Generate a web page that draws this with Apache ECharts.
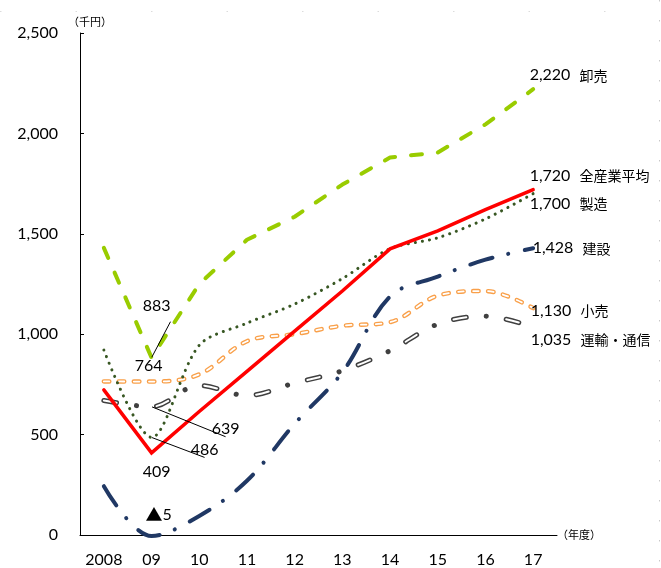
<!DOCTYPE html>
<html>
<head>
<meta charset="utf-8">
<script src="https://cdn.jsdelivr.net/npm/echarts@6/dist/echarts.min.js"></script>
<style>
  html, body { margin: 0; padding: 0; background: #fff; }
  #chart { width: 661px; height: 568px; }
</style>
</head>
<body>
<div id="chart"></div>
<script>
// 年度
const years = ['2008', '09', '10', '11', '12', '13', '14', '15', '16', '17'];

// 一人当たり経常利益（千円）
const oroshiuri  = [1430, 883, 1250, 1470, 1585, 1745, 1880, 1905, 2045, 2220]; // 卸売
const zenSangyo  = [723, 409, 615, 815, 1015, 1215, 1425, 1515, 1620, 1720];    // 全産業平均
const seizo      = [921, 486, 945, 1055, 1150, 1277, 1426, 1480, 1574, 1700];   // 製造
const kensetsu   = [243, -5, 95, 270, 554, 810, 1188, 1287, 1371, 1428];        // 建設
const kouri      = [765, 764, 800, 965, 1000, 1042, 1060, 1192, 1215, 1130];    // 小売
const unyu       = [670, 639, 745, 695, 757, 818, 918, 1050, 1090, 1035];       // 運輸・通信

const NUM_FONT = 'Lato, "Liberation Sans", sans-serif';
const JP_FONT = '"Noto Sans CJK JP", sans-serif';

// negative values are written with ▲
const fmtRich = v => (v < 0 ? '{tri|▲}' + Math.abs(v) : v.toLocaleString('en-US'));

// label pinned to a single point, optionally with a guide line
function pointLabel(dx, dy, guide) {
  return {
    label: {
      show: true, position: 'inside', offset: [dx, dy],
      formatter: p => fmtRich(p.value),
      color: '#000', fontFamily: NUM_FONT, fontSize: 16,
      rich: { tri: { fontFamily: JP_FONT, fontSize: 17, color: '#000' } }
    },
    labelLine: { show: !!guide, lineStyle: { color: '#000', width: 1 } }
  };
}

// series name + last value at the right end of each line
function endLabel(name, dx, dy) {
  return {
    label: {
      show: true, position: 'right', distance: 0, offset: [dx, dy],
      formatter: p => '{n|' + p.value.toLocaleString('en-US') + '}{t|' + name + '}',
      rich: {
        n: { fontFamily: NUM_FONT, fontSize: 16, color: '#000' },
        t: { fontFamily: JP_FONT, fontSize: 14, color: '#000', padding: [0, 0, 0, 9] }
      }
    }
  };
}

function build(values, extras) {
  return values.map((v, i) => Object.assign({ value: v }, extras[i] || {}));
}

const hidden = { color: 'rgba(0,0,0,0)', borderWidth: 0 };

function lineSeries(name, values, extras, lineStyle, smooth) {
  return {
    name, type: 'line', data: build(values, extras),
    smooth: smooth || false, clip: false,
    symbol: 'circle', symbolSize: 1, showSymbol: true,
    itemStyle: hidden, lineStyle,
    emphasis: { disabled: true }, silent: true
  };
}

function overlaySeries(values, lineStyle, smooth) {
  return {
    type: 'line', data: values.slice(), smooth: smooth || false, clip: false,
    symbol: 'none', lineStyle, emphasis: { disabled: true }, silent: true
  };
}

const series = [
  // 運輸・通信: outlined dash + dot
  lineSeries('運輸・通信', unyu,
    { 1: pointLabel(74, 22, true), 9: endLabel('運輸・通信', -3, 13) },
    { color: '#404040', width: 5, cap: 'round', type: [13, 20, 0.1, 20] }, 0.35),
  overlaySeries(unyu, { color: '#fff', width: 2, cap: 'round', type: [13, 40.1] }, 0.35),

  // 小売: outlined short dashes
  lineSeries('小売', kouri,
    { 1: pointLabel(-3, -16, false), 9: endLabel('小売', -3, 3) },
    { color: '#F9A04A', width: 4.5, cap: 'round', type: [5.5, 9.5] }, 0.35),
  overlaySeries(kouri, { color: '#fff', width: 1.8, cap: 'round', type: [5.5, 9.5] }, 0.35),

  // 建設: long dash + dot
  lineSeries('建設', kensetsu,
    { 1: pointLabel(7, -21, false), 9: endLabel('建設', -1, 0) },
    { color: '#203864', width: 4, cap: 'round', type: [23, 16, 0.1, 16.9] }, 0.35),

  // 製造: round dots
  lineSeries('製造', seizo,
    { 1: pointLabel(53, 12, true), 9: endLabel('製造', -4, 10) },
    { color: '#385723', width: 3, cap: 'round', type: [0.1, 7] }, 0.3),

  // 卸売: dashes
  lineSeries('卸売', oroshiuri,
    { 1: pointLabel(5, -52, true), 9: endLabel('卸売', -4, -14) },
    { color: '#99CC00', width: 4, cap: 'round', type: [11, 16] }, false),

  // 全産業平均: solid
  lineSeries('全産業平均', zenSangyo,
    { 1: pointLabel(5, 19, false), 9: endLabel('全産業平均', -4, -14) },
    { color: '#FF0000', width: 3.5, cap: 'round', join: 'miter' }, false)
];

const chart = echarts.init(document.getElementById('chart'), null, { renderer: 'canvas' });
chart.setOption({
  animation: false,
  backgroundColor: '#fff',
  grid: { left: 80, right: 104, top: 33, bottom: 30, containLabel: false },
  xAxis: {
    type: 'category', data: years, boundaryGap: true,
    axisLine: { lineStyle: { color: '#000', width: 1 } },
    axisTick: { show: false },
    axisLabel: { color: '#000', fontFamily: NUM_FONT, fontSize: 16, margin: 17, interval: 0 },
    name: '（年度）', nameLocation: 'end', nameGap: 0,
    nameTextStyle: { color: '#000', fontFamily: JP_FONT, fontSize: 11, padding: [52, 0, 0, 0] }
  },
  yAxis: {
    type: 'value', min: 0, max: 2500, interval: 500,
    axisLine: { show: true, lineStyle: { color: '#000', width: 1 } },
    axisTick: { show: true, inside: true, length: 4, lineStyle: { color: '#000' } },
    splitLine: { show: false },
    axisLabel: { color: '#000', fontFamily: NUM_FONT, fontSize: 16, margin: 22,
                 formatter: v => v.toLocaleString('en-US') },
    name: '（千円）', nameLocation: 'end', nameGap: 6,
    nameTextStyle: { color: '#000', fontFamily: JP_FONT, fontSize: 11, padding: [0, 0, 0, 20] }
  },
  graphic: [
    { type: 'line', silent: true, shape: { x1: 659.5, y1: 0, x2: 659.5, y2: 568 },
      style: { stroke: '#c8c8c8', lineWidth: 1, lineDash: [1.5, 18.5] } },
    { type: 'line', silent: true, shape: { x1: 0, y1: 11.5, x2: 661, y2: 11.5 },
      style: { stroke: '#dcdcdc', lineWidth: 1, lineDash: [1.5, 74] } }
  ],
  series
});
</script>
</body>
</html>
